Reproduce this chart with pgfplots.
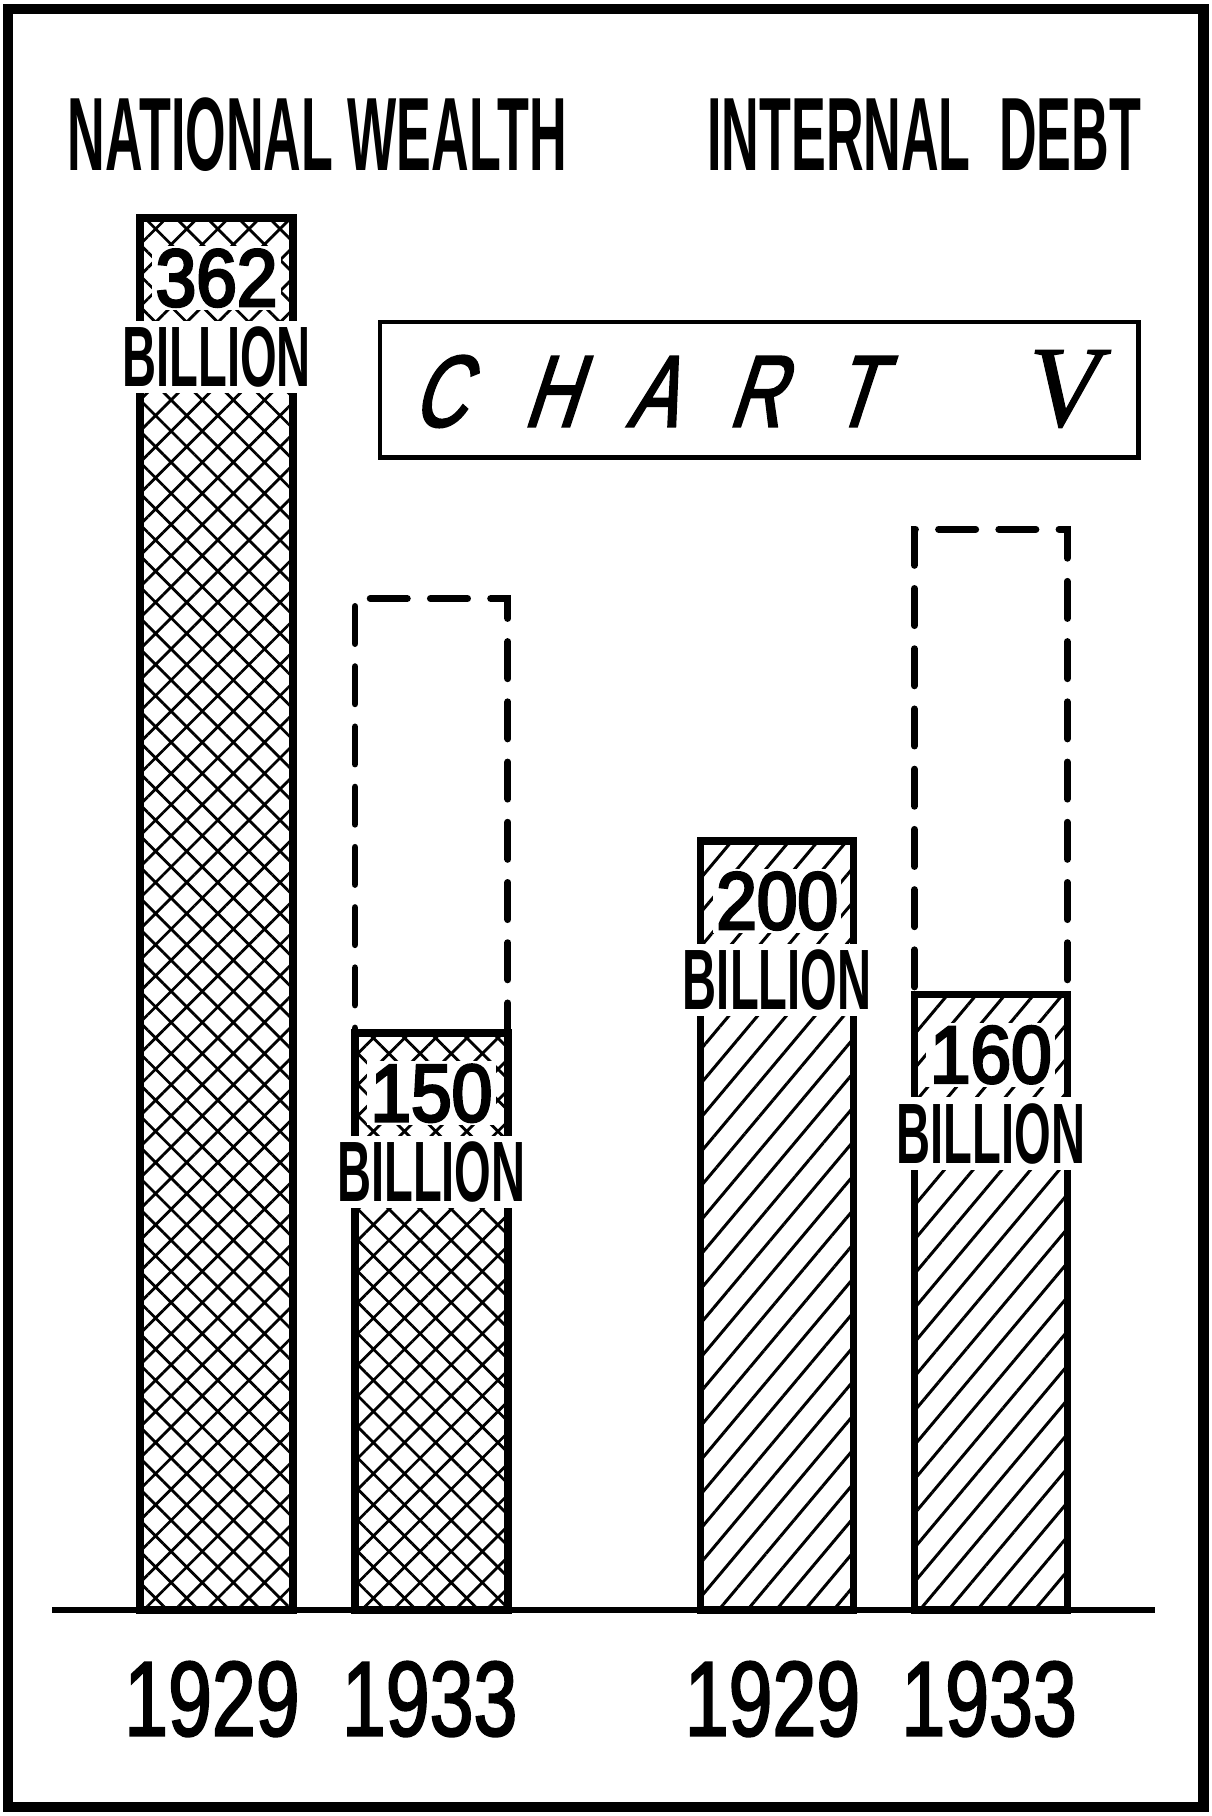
\documentclass[border=0pt]{standalone}
\usepackage{fontspec}
\usepackage{pgfplots}
\usepackage{pgfplotstable}
\pgfplotsset{compat=1.18}
\usetikzlibrary{patterns.meta}
\newfontfamily\condfont[FakeStretch=0.5]{Liberation Sans}
\newfontfamily\billfont[FakeStretch=0.55]{Liberation Sans}
\newfontfamily\numfont[FakeStretch=0.9,FakeBold=3.5]{Liberation Sans}
\newfontfamily\yearfont[FakeStretch=0.74,FakeBold=1.8]{Liberation Sans}
\newfontfamily\chartfont[FakeStretch=0.72,FakeSlant=0.33,FakeBold=2]{Liberation Sans}
\newfontfamily\vfont[FakeBold=1]{Liberation Serif}

\pgfplotstableread{
x v
187 362
372.5 150
}\wealth
\pgfplotstableread{
x v
671 200
855.5 160
}\debt
\pgfplotstableread{
x v
372.5 263
855.5 281
}\ghost

\begin{document}
\begin{tikzpicture}
\begin{axis}[at={(0,0)}, anchor=south west, scale only axis,
  width=523pt, height=784pt,
  xmin=0, xmax=1046, ymin=-53.614, ymax=418.675,
  hide axis, clip=false]
  % dashed outlines
  \addplot[ybar, bar width=132, bar shift=0pt, draw=black, line width=3pt,
    dash pattern=on 16pt off 10pt, line cap=round, fill=none]
    table[x=x,y=v]{\ghost};
  % national wealth
  \addplot[ybar, bar width=132, bar shift=0pt, draw=black, line width=3.2pt,
    fill=white, postaction={pattern={Hatch[angle=45,distance=9.5pt,line width=1.2pt]}, pattern color=black}]
    table[x=x,y=v]{\wealth};
  % internal debt
  \addplot[ybar, bar width=132, bar shift=0pt, draw=black, line width=3.2pt,
    fill=white, postaction={pattern={Lines[angle=50,distance=9.5pt,line width=1.3pt]}, pattern color=black}]
    table[x=x,y=v]{\debt};
  % baseline
  \draw[line width=2.6pt] (axis cs:45,0) -- (axis cs:997,0);
  % value labels
  \foreach \xx/\vv in {187/362, 372.5/150, 671/200, 855.5/160}{
    \edef\temp{\noexpand\node[fill=white, inner sep=1.5pt] at (axis cs:\xx,\vv) [yshift=-26pt] {\noexpand\numfont\noexpand\fontsize{35}{35}\noexpand\selectfont \vv};
    \noexpand\node[fill=white, inner xsep=1.5pt, inner ysep=2.5pt] at (axis cs:\xx,\vv) [yshift=-60pt] {\noexpand\billfont\noexpand\bfseries\noexpand\fontsize{37}{37}\noexpand\selectfont BILLION};}
    \temp
  }
  % year labels
  \foreach \xx/\yy in {183/1929, 371/1933, 667/1929, 854/1933}{
    \edef\temp{\noexpand\node at (axis cs:\xx,-23.2) {\noexpand\yearfont\noexpand\fontsize{46}{46}\noexpand\selectfont \yy};}
    \temp
  }
\end{axis}
\begin{scope}[x=0.5pt, y=-0.5pt, yshift=784pt]
  \draw[line width=4.5pt] (7,8) rectangle (1039,1560);
  \node at (274,116) {\condfont\bfseries\fontsize{45}{45}\selectfont NATIONAL WEALTH};
  \node at (798,116) {\condfont\bfseries\fontsize{45}{45}\selectfont INTERNAL\hspace{6pt} DEBT};
  \draw[line width=1.8pt] (328,278) rectangle (983,395);
  \foreach \xx/\ll in {378/C, 474/H, 562/A, 651/R, 737/T}{
    \node at (\xx,338) {\chartfont\fontsize{44}{44}\selectfont \ll};
  }
  \node at (919,336) {\vfont\itshape\fontsize{50}{50}\selectfont V};
\end{scope}
\pgfresetboundingbox
\path (0,0) rectangle (523pt,784pt);
\end{tikzpicture}
\end{document}
